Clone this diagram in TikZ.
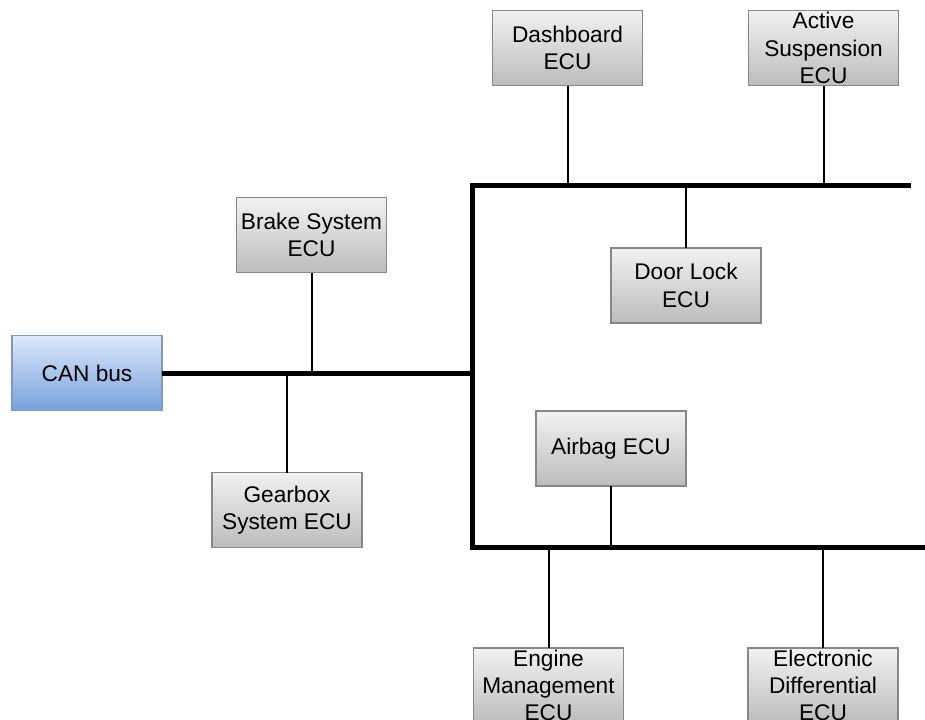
\documentclass[tikz,border=0pt]{standalone}
\usepackage{fontspec}
\setmainfont{Liberation Sans}
\definecolor{canTop}{RGB}{220,232,250}
\definecolor{canBottom}{RGB}{120,161,220}
\definecolor{canEdge}{RGB}{128,152,190}
\definecolor{ecuTop}{RGB}{242,242,242}
\definecolor{ecuBottom}{RGB}{188,188,188}
\definecolor{ecuEdge}{RGB}{135,135,135}
\begin{document}
\begin{tikzpicture}[x=0.75pt,y=-0.75pt,
  ecu/.style={draw=ecuEdge, line width=0.9pt, top color=ecuTop, bottom color=ecuBottom,
    minimum width=112.5pt, minimum height=56.25pt, inner sep=0pt, outer sep=0pt},
  canbox/.style={draw=canEdge, line width=0.9pt, top color=canTop,
    bottom color=canBottom, minimum width=112.5pt, minimum height=56.25pt,
    inner sep=0pt, outer sep=0pt, font=\fontsize{17}{20.5}\selectfont},
  lbl/.style={align=center, inner sep=0pt, font=\fontsize{17}{20.5}\selectfont},
  bus/.style={line width=3.75pt, line join=miter},
  tap/.style={line width=1.5pt}]
\useasboundingbox (0,0) rectangle (925,719);
\clip (0,0) rectangle (925,719);

% bus backbone
\coordinate (j)  at (472,373);
\coordinate (tl) at (472,185);
\coordinate (tr) at (911,185);
\coordinate (bl) at (472,547);
\coordinate (br) at (926,547);

% nodes
\node[canbox] (can) at (87,373) {CAN bus};
\node[ecu] (brake) at (311.5,235) {};
\node[ecu] (gear) at (287,510) {};
\node[ecu] (dash) at (567.5,48) {};
\node[ecu] (susp) at (823.5,48) {};
\node[ecu] (door) at (686,285.5) {};
\node[ecu] (airbag) at (611,448.5) {};
\node[ecu] (engine) at (548.5,685.5) {};
\node[ecu] (diff) at (823,685.5) {};

% labels
\node[lbl] (brakeT) at (brake.center) {Brake System\\ECU};
\node[lbl] (gearT) at (gear.center) {Gearbox\\System ECU};
\node[lbl] (dashT) at (dash.center) {Dashboard\\ECU};
\node[lbl] (suspT) at (susp.center) {Active\\Suspension\\ECU};
\node[lbl] (doorT) at (door.center) {Door Lock\\ECU};
\node[lbl] (airbagT) at (airbag.center) {Airbag ECU};
\node[lbl] (engineT) at (engine.center) {Engine\\Management\\ECU};
\node[lbl] (diffT) at (diff.center) {Electronic\\Differential\\ECU};

% taps
\draw[tap] (brake.south) -- (brake.south |- j);
\draw[tap] (gear.north) -- (gear.north |- j);
\draw[tap] (dash.south) -- (dash.south |- tl);
\draw[tap] (susp.south) -- (susp.south |- tl);
\draw[tap] (door.north) -- (door.north |- tl);
\draw[tap] (airbag.south) -- (airbag.south |- bl);
\draw[tap] (engine.north) -- (engine.north |- bl);
\draw[tap] (diff.north) -- (diff.north |- bl);

% thick bus lines
\draw[bus] (can.east) -- (j);
\draw[bus] (tr) -- (tl) -- (bl) -- (br);
\end{tikzpicture}
\end{document}
